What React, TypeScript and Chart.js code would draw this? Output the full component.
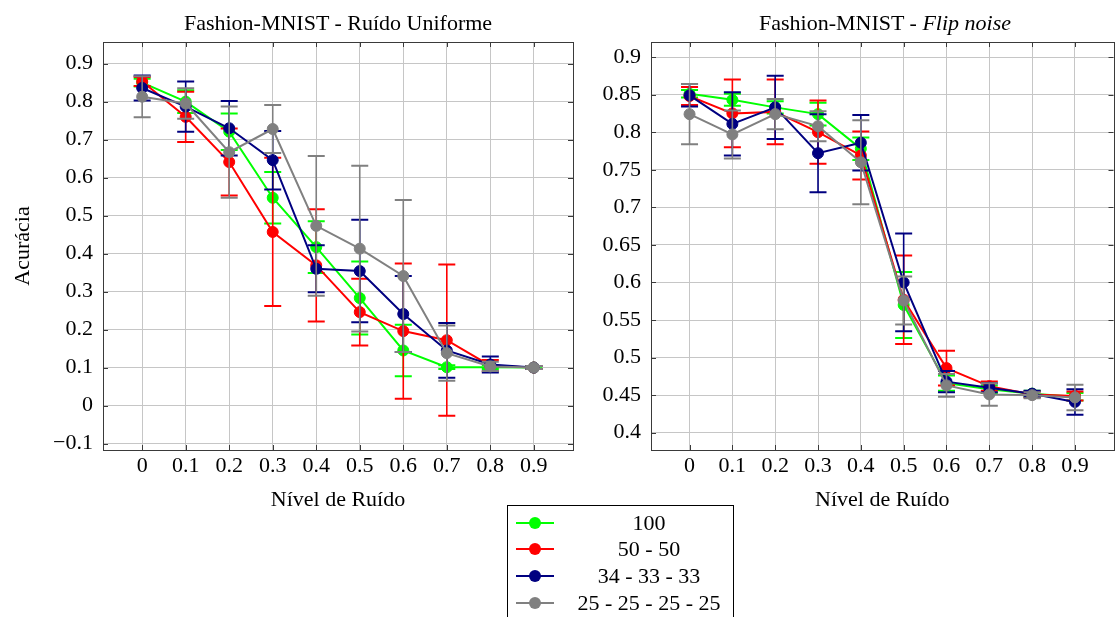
import React, { useEffect, useRef } from 'react';
import { Chart, registerables } from 'chart.js';

Chart.register(...registerables);

// ---------------- data ----------------
const noiseLevels = [0, 0.1, 0.2, 0.3, 0.4, 0.5, 0.6, 0.7, 0.8, 0.9];
const xTickLabels = ['0', '0.1', '0.2', '0.3', '0.4', '0.5', '0.6', '0.7', '0.8', '0.9'];

const yTicksUniform = [-0.1, 0, 0.1, 0.2, 0.3, 0.4, 0.5, 0.6, 0.7, 0.8, 0.9];
const yTickLabelsUniform = ['\u22120.1', '0', '0.1', '0.2', '0.3', '0.4', '0.5', '0.6', '0.7', '0.8', '0.9'];
const yTicksFlip = [0.4, 0.45, 0.5, 0.55, 0.6, 0.65, 0.7, 0.75, 0.8, 0.85, 0.9];
const yTickLabelsFlip = ['0.4', '0.45', '0.5', '0.55', '0.6', '0.65', '0.7', '0.75', '0.8', '0.85', '0.9'];

const seriesNames = ['100', '50 - 50', '34 - 33 - 33', '25 - 25 - 25 - 25'];

// Uniform noise (left)
const uniform100 = [0.850, 0.800, 0.721, 0.547, 0.417, 0.283, 0.145, 0.101, 0.101, 0.100];
const uniform100Err = [0.010, 0.030, 0.048, 0.068, 0.068, 0.096, 0.068, 0.005, 0.005, 0.003];
const uniform5050 = [0.853, 0.760, 0.641, 0.457, 0.369, 0.246, 0.196, 0.172, 0.105, 0.100];
const uniform5050Err = [0.012, 0.066, 0.088, 0.195, 0.148, 0.088, 0.178, 0.199, 0.015, 0.004];
const uniform343333 = [0.836, 0.787, 0.730, 0.646, 0.360, 0.354, 0.241, 0.145, 0.108, 0.100];
const uniform343333Err = [0.033, 0.066, 0.072, 0.077, 0.062, 0.135, 0.100, 0.072, 0.021, 0.004];
const uniform25x4 = [0.813, 0.795, 0.667, 0.728, 0.473, 0.413, 0.341, 0.138, 0.103, 0.100];
const uniform25x4Err = [0.054, 0.040, 0.120, 0.063, 0.184, 0.218, 0.200, 0.073, 0.012, 0.004];

// Flip noise (right)
const flip100 = [0.851, 0.843, 0.833, 0.824, 0.778, 0.570, 0.466, 0.458, 0.452, 0.448];
const flip100Err = [0.005, 0.008, 0.008, 0.015, 0.015, 0.044, 0.010, 0.005, 0.004, 0.005];
const flip5050 = [0.848, 0.825, 0.827, 0.800, 0.769, 0.577, 0.486, 0.462, 0.451, 0.449];
const flip5050Err = [0.012, 0.045, 0.043, 0.042, 0.032, 0.059, 0.023, 0.006, 0.004, 0.006];
const flip343333 = [0.849, 0.811, 0.833, 0.772, 0.786, 0.600, 0.468, 0.460, 0.452, 0.441];
const flip343333Err = [0.015, 0.042, 0.042, 0.052, 0.037, 0.065, 0.014, 0.006, 0.004, 0.017];
const flip25x4 = [0.824, 0.797, 0.824, 0.808, 0.760, 0.576, 0.463, 0.451, 0.450, 0.447];
const flip25x4Err = [0.040, 0.032, 0.020, 0.020, 0.056, 0.032, 0.015, 0.015, 0.004, 0.017];

// ---------------- styles ----------------
const seriesColors = ['#00ff00', '#ff0000', '#000080', '#808080'];
const FONT_FAMILY = '"Liberation Serif", "Times New Roman", serif';
const FONT_SIZE = 22;
const GRID_COLOR = '#c6c6c6';
const FRAME_COLOR = '#3a3a3a';

const errorBarPlugin = {
  id: 'errorBars',
  beforeDatasetDraw(chart: any, args: any) {
    const ds = chart.data.datasets[args.index];
    const errs: number[] = ds.errors;
    if (!errs) return;
    const { ctx } = chart;
    const xs = chart.scales.x;
    const ys = chart.scales.y;
    ctx.save();
    ctx.strokeStyle = ds.borderColor;
    ds.data.forEach((p: any, i: number) => {
      const px = xs.getPixelForValue(p.x);
      const top = ys.getPixelForValue(p.y + errs[i]);
      const bot = ys.getPixelForValue(p.y - errs[i]);
      ctx.lineWidth = 1.6;
      ctx.beginPath();
      ctx.moveTo(px, top);
      ctx.lineTo(px, bot);
      ctx.stroke();
      ctx.lineWidth = 2;
      ctx.beginPath();
      ctx.moveTo(px - 8.5, top);
      ctx.lineTo(px + 8.5, top);
      ctx.moveTo(px - 8.5, bot);
      ctx.lineTo(px + 8.5, bot);
      ctx.stroke();
    });
    ctx.restore();
  },
};

const framePlugin = {
  id: 'frame',
  beforeDatasetsDraw(chart: any) {
    const { ctx, chartArea: a } = chart;
    const xs = chart.scales.x;
    const ys = chart.scales.y;
    ctx.save();
    ctx.strokeStyle = FRAME_COLOR;
    ctx.lineWidth = 1;
    ctx.beginPath();
    xs.ticks.forEach((t: any) => {
      const px = Math.round(xs.getPixelForValue(t.value)) + 0.5;
      ctx.moveTo(px, a.bottom);
      ctx.lineTo(px, a.bottom - 5);
      ctx.moveTo(px, a.top);
      ctx.lineTo(px, a.top + 5);
    });
    ys.ticks.forEach((t: any) => {
      const py = Math.round(ys.getPixelForValue(t.value)) + 0.5;
      ctx.moveTo(a.left, py);
      ctx.lineTo(a.left + 5, py);
      ctx.moveTo(a.right, py);
      ctx.lineTo(a.right - 5, py);
    });
    ctx.stroke();
    ctx.strokeRect(Math.round(a.left) + 0.5, Math.round(a.top) + 0.5, Math.round(a.right - a.left), Math.round(a.bottom - a.top));
    ctx.restore();
  },
};

function buildConfig(
  values: number[][],
  errors: number[][],
  yMin: number,
  yMax: number,
  yTicks: number[],
  yLabels: string[],
  yTitle: string,
  yAxisWidth: number,
  rightPad: number
): any {
  const font = { family: FONT_FAMILY, size: FONT_SIZE };
  return {
    type: 'line',
    data: {
      datasets: values.map((vals, k) => ({
        label: seriesNames[k],
        data: vals.map((v, i) => ({ x: noiseLevels[i], y: v })),
        errors: errors[k],
        borderColor: seriesColors[k],
        backgroundColor: seriesColors[k],
        pointBackgroundColor: seriesColors[k],
        pointBorderColor: seriesColors[k],
        borderWidth: 2,
        pointRadius: 5.5,
        pointBorderWidth: 1,
        pointHoverRadius: 5.5,
        tension: 0,
        fill: false,
        order: 4 - k,
      })),
    },
    options: {
      animation: false,
      responsive: false,
      maintainAspectRatio: false,
      devicePixelRatio: 1,
      events: [],
      layout: { padding: { top: 42, left: 0, right: rightPad, bottom: 0 } },
      plugins: {
        legend: { display: false },
        title: { display: false },
        tooltip: { enabled: false },
      },
      scales: {
        x: {
          type: 'linear',
          min: -0.09,
          max: 0.99,
          bounds: 'data',
          afterBuildTicks: (ax: any) => {
            ax.ticks = noiseLevels.map((v) => ({ value: v }));
          },
          afterFit: (s: any) => {
            s.height = 70;
          },
          ticks: {
            callback: (_v: any, i: number) => xTickLabels[i],
            padding: 3,
            font,
            color: '#000',
            maxRotation: 0,
            autoSkip: false,
          },
          grid: { color: GRID_COLOR, drawTicks: false, lineWidth: 1 },
          border: { display: false },
          title: {
            display: true,
            text: 'Nível de Ruído',
            font,
            color: '#000',
            padding: { top: 0, bottom: 6.8 },
          },
        },
        y: {
          type: 'linear',
          min: yMin,
          max: yMax,
          bounds: 'data',
          afterBuildTicks: (ax: any) => {
            ax.ticks = yTicks.map((v) => ({ value: v }));
          },
          afterFit: (s: any) => {
            s.width = yAxisWidth;
          },
          ticks: {
            callback: (_v: any, i: number) => yLabels[i],
            padding: 10,
            font,
            color: '#000',
            autoSkip: false,
          },
          grid: { color: GRID_COLOR, drawTicks: false, lineWidth: 1 },
          border: { display: false },
          title: {
            display: yTitle !== '',
            text: yTitle,
            font,
            color: '#000',
            padding: { top: 9.8, bottom: 0 },
          },
        },
      },
    },
    plugins: [errorBarPlugin, framePlugin],
  };
}

function ChartCanvas(props: { config: () => any; left: number; width: number; height: number }) {
  const ref = useRef<HTMLCanvasElement | null>(null);
  useEffect(() => {
    if (!ref.current) return;
    const chart = new Chart(ref.current, props.config());
    return () => chart.destroy();
  }, []);
  return (
    <canvas
      ref={ref}
      width={props.width}
      height={props.height}
      style={{ position: 'absolute', left: props.left, top: 0, width: props.width, height: props.height }}
    />
  );
}

const textStyle: React.CSSProperties = {
  fontFamily: FONT_FAMILY,
  fontSize: FONT_SIZE,
  lineHeight: '26px',
  color: '#000',
  whiteSpace: 'nowrap',
};

const legendRowCenters = [522.7, 549.3, 576, 602.7];

export default function App() {
  return (
    <div
      style={{
        position: 'absolute',
        left: 0,
        top: 0,
        width: 1116,
        height: 617,
        overflow: 'hidden',
        background: '#fff',
      }}
    >
      <ChartCanvas
        left={0}
        width={580}
        height={520}
        config={() =>
          buildConfig(
            [uniform100, uniform5050, uniform343333, uniform25x4],
            [uniform100Err, uniform5050Err, uniform343333Err, uniform25x4Err],
            -0.117,
            0.957,
            yTicksUniform,
            yTickLabelsUniform,
            'Acurácia',
            103,
            7
          )
        }
      />
      <ChartCanvas
        left={580}
        width={540}
        height={520}
        config={() =>
          buildConfig(
            [flip100, flip5050, flip343333, flip25x4],
            [flip100Err, flip5050Err, flip343333Err, flip25x4Err],
            0.377,
            0.92,
            yTicksFlip,
            yTickLabelsFlip,
            '',
            71,
            1
          )
        }
      />
      <div style={{ ...textStyle, position: 'absolute', left: 103, width: 470, top: 10, textAlign: 'center' }}>
        Fashion-MNIST - Ruído Uniforme
      </div>
      <div style={{ ...textStyle, position: 'absolute', left: 651, width: 468, top: 10, textAlign: 'center' }}>
        Fashion-MNIST - <i>Flip noise</i>
      </div>
      <div
        style={{
          position: 'absolute',
          left: 507,
          top: 505,
          width: 227,
          height: 140,
          border: '1px solid #000',
          boxSizing: 'border-box',
          background: '#fff',
        }}
      >
        {seriesNames.map((name, k) => {
          const rowTop = legendRowCenters[k] - 506 - 13;
          return (
            <div key={name} style={{ position: 'absolute', left: 0, top: rowTop, width: 225, height: 26 }}>
              <div
                style={{
                  position: 'absolute',
                  left: 8,
                  top: 12,
                  width: 38,
                  height: 2,
                  background: seriesColors[k],
                }}
              />
              <div
                style={{
                  position: 'absolute',
                  left: 21,
                  top: 7,
                  width: 12,
                  height: 12,
                  borderRadius: 6,
                  background: seriesColors[k],
                }}
              />
              <div style={{ ...textStyle, position: 'absolute', left: 52, top: 0, width: 178, textAlign: 'center' }}>
                {name}
              </div>
            </div>
          );
        })}
      </div>
    </div>
  );
}
